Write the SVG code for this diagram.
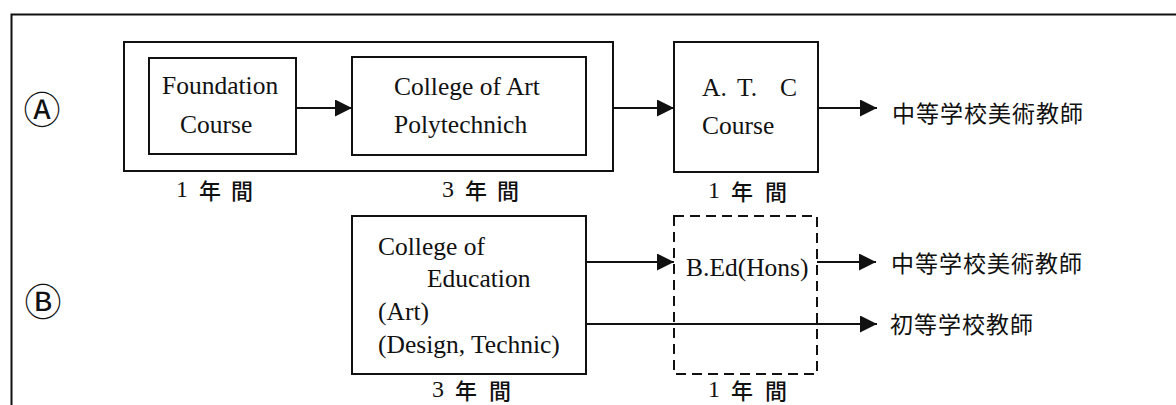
<svg xmlns="http://www.w3.org/2000/svg" width="1176" height="405" viewBox="0 0 1176 405">
<style>
.box{fill:none;stroke:#111;stroke-width:2}
.dash{fill:none;stroke:#111;stroke-width:2;stroke-dasharray:10 6}
.ln{fill:none;stroke:#111;stroke-width:2}
.en{font-family:"Liberation Serif","Times New Roman",serif;font-size:25.5px;fill:#111}
.jp{font-family:"Noto Sans CJK JP","Noto Sans CJK SC",sans-serif;font-size:23px;fill:#111;letter-spacing:1px;dominant-baseline:central}
.yr{font-family:"Noto Sans CJK JP","Noto Sans CJK SC",sans-serif;font-size:22px;font-weight:500;fill:#111;dominant-baseline:central}
.num{font-family:"Liberation Serif","Times New Roman",serif;font-size:24px;fill:#111;dominant-baseline:central}
.circ{font-family:"Noto Sans CJK JP","DejaVu Sans",sans-serif;font-size:37px;fill:#111;text-anchor:middle;dominant-baseline:central}
</style>
<defs>
<marker id="ah" markerUnits="userSpaceOnUse" markerWidth="17" markerHeight="17" refX="17" refY="8.5" orient="auto">
<path d="M0,0 L17,8.5 L0,17 Z" fill="#111"/>
</marker>
</defs>
<rect x="0" y="0" width="1176" height="405" fill="#fff"/>
<g id="frame"><path class="ln" d="M11.5,405 V14.5 H1176"/></g>
<g id="label-A"><text class="circ" x="42" y="108">Ⓐ</text></g>
<g id="label-B"><text class="circ" x="43" y="300">Ⓑ</text></g>
<g id="group-A"><rect class="box" x="124" y="42" width="489" height="129"/></g>
<g id="foundation"><rect class="box" x="149" y="58" width="147" height="96"/>
<text class="en" x="162" y="94">Foundation</text>
<text class="en" x="180" y="133">Course</text></g>
<g id="college-art"><rect class="box" x="352" y="57" width="234" height="98"/>
<text class="en" x="394" y="95">College of Art</text>
<text class="en" x="394" y="133">Polytechnich</text></g>
<g id="atc"><rect class="box" x="674" y="42" width="144" height="130"/>
<text class="en" y="96"><tspan x="702">A.</tspan><tspan x="737">T.</tspan><tspan x="780">C</tspan></text>
<text class="en" x="702" y="134">Course</text></g>
<g id="out-A"><text class="jp" x="892" y="112">中等学校美術教師</text></g>
<g id="coe"><rect class="box" x="352" y="216" width="234" height="158"/>
<text class="en" x="378" y="255">College of</text>
<text class="en" x="427" y="287">Education</text>
<text class="en" x="378" y="320">(Art)</text>
<text class="en" x="378" y="353">(Design, Technic)</text></g>
<g id="bed"><rect class="dash" x="674" y="216" width="143" height="158"/>
<text class="en" x="686" y="276">B.Ed(Hons)</text></g>
<g id="out-B1"><text class="jp" x="891" y="262">中等学校美術教師</text></g>
<g id="out-B2"><text class="jp" x="890" y="323">初等学校教師</text></g>
<g id="durations">
<text y="188.5"><tspan class="num" x="176">1</tspan><tspan class="yr" x="199">年</tspan><tspan class="yr" x="231">間</tspan></text>
<text y="188.5"><tspan class="num" x="442">3</tspan><tspan class="yr" x="465">年</tspan><tspan class="yr" x="497">間</tspan></text>
<text y="189.5"><tspan class="num" x="708">1</tspan><tspan class="yr" x="731">年</tspan><tspan class="yr" x="765">間</tspan></text>
<text y="388.5"><tspan class="num" x="432">3</tspan><tspan class="yr" x="455">年</tspan><tspan class="yr" x="489">間</tspan></text>
<text y="388.5"><tspan class="num" x="708">1</tspan><tspan class="yr" x="731">年</tspan><tspan class="yr" x="765">間</tspan></text>
</g>
<g id="connectors">
<line class="ln" x1="296" y1="108" x2="352" y2="108" marker-end="url(#ah)"/>
<line class="ln" x1="613" y1="108" x2="674" y2="108" marker-end="url(#ah)"/>
<line class="ln" x1="818" y1="108" x2="877" y2="108" marker-end="url(#ah)"/>
<line class="ln" x1="586" y1="262" x2="674" y2="262" marker-end="url(#ah)"/>
<line class="ln" x1="817" y1="262" x2="876" y2="262" marker-end="url(#ah)"/>
<line class="ln" x1="586" y1="324" x2="877" y2="324" marker-end="url(#ah)"/>
</g>
</svg>
